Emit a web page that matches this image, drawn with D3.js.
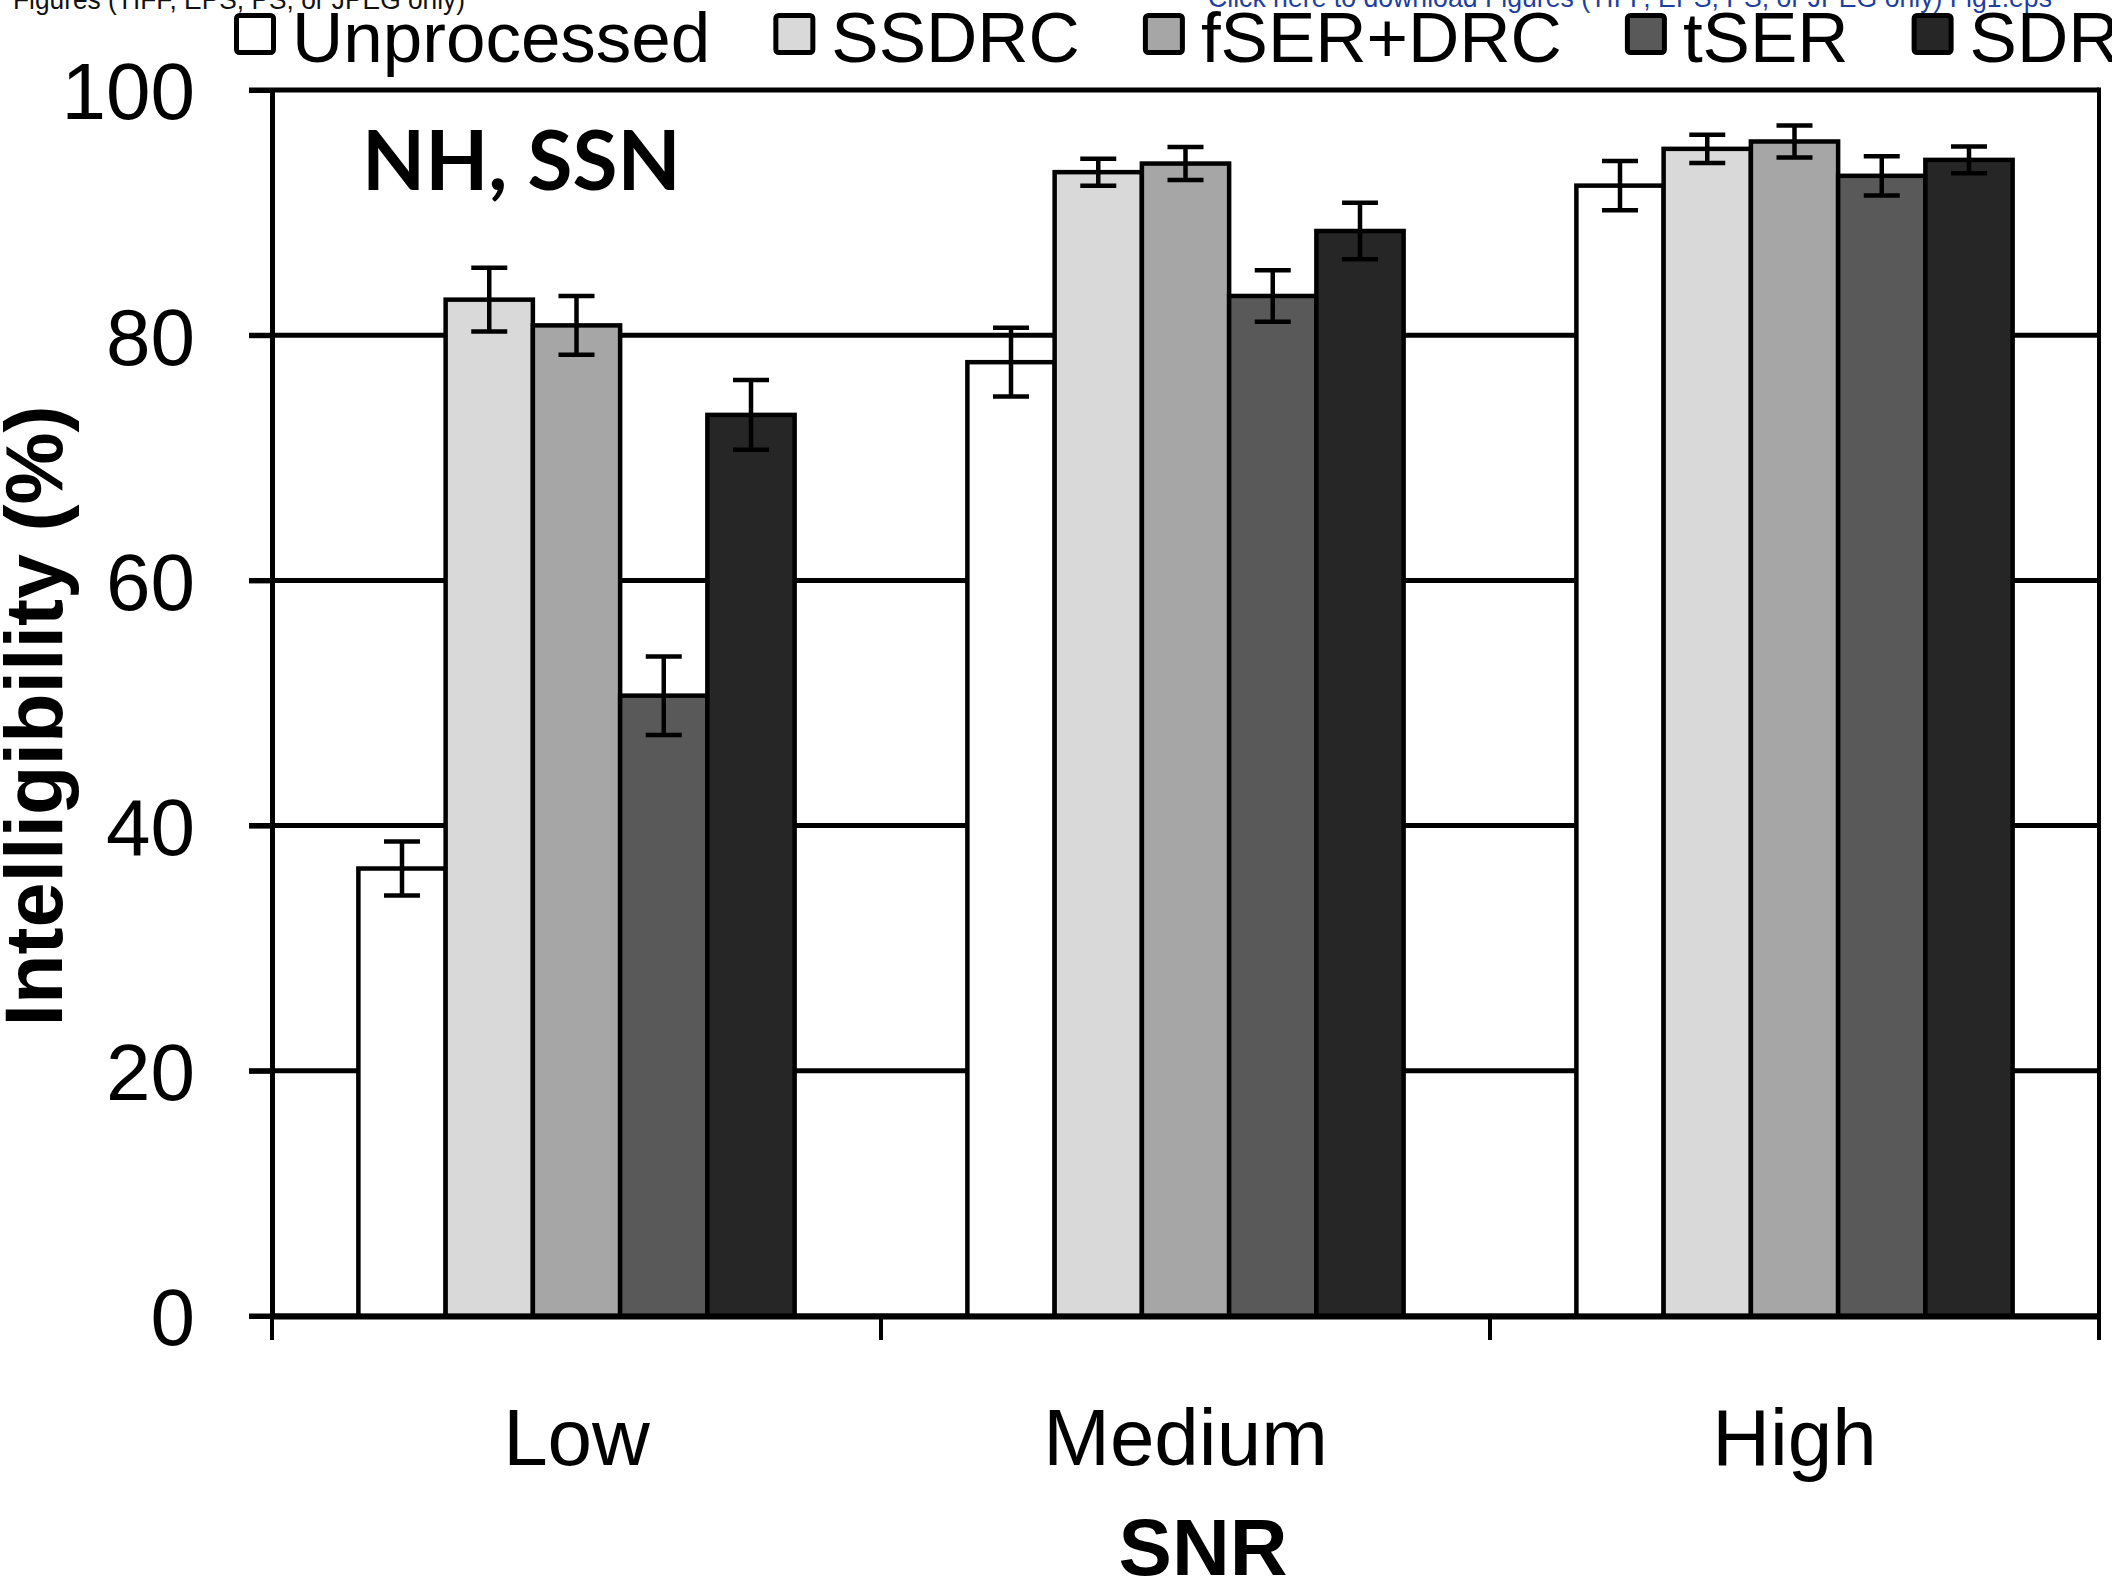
<!DOCTYPE html>
<html>
<head>
<meta charset="utf-8">
<script src="https://cdn.jsdelivr.net/npm/d3@7"></script>
<style>
  body { margin: 0; background: #fff; }
  svg { display: block; }
</style>
</head>
<body>
<svg id="chart" width="2112" height="1582"></svg>
<script>
// SNR levels on the x axis, processing methods as series
var snrLevels = ["Low", "Medium", "High"];
var methods = ["Unprocessed", "SSDRC", "fSER+DRC", "tSER", "SDR"];
var methodColors = ["#ffffff", "#d9d9d9", "#a6a6a6", "#595959", "#262626"];

// mean intelligibility (%) per method, one array per SNR level
var lowMeans = [36.5, 82.9, 80.8, 50.6, 73.5];
var mediumMeans = [77.8, 93.3, 94.0, 83.2, 88.5];
var highMeans = [92.2, 95.2, 95.8, 93.0, 94.3];

// error bar half-lengths
var lowErr = [2.2, 2.6, 2.4, 3.2, 2.85];
var mediumErr = [2.8, 1.1, 1.35, 2.1, 2.3];
var highErr = [2.0, 1.15, 1.3, 1.6, 1.1];

var yTicks = [0, 20, 40, 60, 80, 100];

var means = [lowMeans, mediumMeans, highMeans];
var errs = [lowErr, mediumErr, highErr];

var rows = [];
snrLevels.forEach(function (snr, i) {
    methods.forEach(function (m, j) {
        rows.push({ snr: snr, method: m, value: means[i][j], err: errs[i][j], color: methodColors[j] });
    });
});

var svg = d3.select("#chart");
var font = "'Liberation Sans', Arial, Helvetica, sans-serif";

// plot box (window.top is reserved, so keep these names distinct)
var plotL = 272, plotR = 2099, plotT = 90, plotB = 1316;

var x0 = d3.scaleBand().domain(snrLevels).range([plotL, plotR]).padding(0);
var x1 = d3.scaleBand().domain(methods).range([0, x0.bandwidth()]).paddingInner(0).paddingOuter(0.99);
var y = d3.scaleLinear().domain([0, 100]).range([plotB, plotT]);

// header text left over from the source page
svg.append("text")
    .attr("x", 13).attr("y", 9)
    .style("font-family", font).style("font-size", "28px")
    .attr("textLength", 452).attr("lengthAdjust", "spacingAndGlyphs")
    .attr("fill", "#111")
    .text("Figures (TIFF, EPS, PS, or JPEG only)");
svg.append("text")
    .attr("x", 1208).attr("y", 7)
    .style("font-family", font).style("font-size", "28px")
    .attr("textLength", 844).attr("lengthAdjust", "spacingAndGlyphs")
    .attr("fill", "#1f3f9f")
    .text("Click here to download Figures (TIFF, EPS, PS, or JPEG only) Fig1.eps");

// gridlines (also make the top frame and the short tick stubs at left)
svg.append("g").selectAll("line")
    .data(yTicks)
    .enter().append("line")
    .attr("x1", plotL - 23).attr("x2", plotR)
    .attr("y1", function (d) { return y(d); })
    .attr("y2", function (d) { return y(d); })
    .attr("stroke", "#000").attr("stroke-width", 5);

// right frame
svg.append("line")
    .attr("x1", plotR).attr("x2", plotR)
    .attr("y1", y(100) - 2.5).attr("y2", y(0))
    .attr("stroke", "#000").attr("stroke-width", 4);

// bars
var bars = svg.append("g");
bars.selectAll("rect")
    .data(rows)
    .enter().append("rect")
    .attr("x", function (d) { return x0(d.snr) + x1(d.method); })
    .attr("y", function (d) { return y(d.value); })
    .attr("width", x1.bandwidth())
    .attr("height", function (d) { return y(0) - y(d.value); })
    .attr("fill", function (d) { return d.color; })
    .attr("stroke", "#000").attr("stroke-width", 4.5);

// error bars
var eb = svg.append("g").attr("stroke", "#000").attr("stroke-width", 4.5);
var cx = function (d) { return x0(d.snr) + x1(d.method) + x1.bandwidth() / 2; };
eb.selectAll(".stem").data(rows).enter().append("line")
    .attr("class", "stem")
    .attr("x1", cx).attr("x2", cx)
    .attr("y1", function (d) { return y(d.value + d.err); })
    .attr("y2", function (d) { return y(d.value - d.err); });
eb.selectAll(".capTop").data(rows).enter().append("line")
    .attr("class", "capTop")
    .attr("x1", function (d) { return cx(d) - 18; })
    .attr("x2", function (d) { return cx(d) + 18; })
    .attr("y1", function (d) { return y(d.value + d.err); })
    .attr("y2", function (d) { return y(d.value + d.err); });
eb.selectAll(".capBot").data(rows).enter().append("line")
    .attr("class", "capBot")
    .attr("x1", function (d) { return cx(d) - 18; })
    .attr("x2", function (d) { return cx(d) + 18; })
    .attr("y1", function (d) { return y(d.value - d.err); })
    .attr("y2", function (d) { return y(d.value - d.err); });

// y axis
var yAxis = svg.append("g")
    .attr("transform", "translate(" + plotL + ",0)")
    .call(d3.axisLeft(y).tickValues(yTicks).tickSize(23).tickSizeOuter(0).tickPadding(54));
yAxis.select(".domain").attr("stroke", "#000").attr("stroke-width", 5);
yAxis.selectAll(".tick line").attr("stroke", "#000").attr("stroke-width", 5);
yAxis.selectAll(".tick text")
    .attr("fill", "#000")
    .attr("dy", "0.36em")
    .style("font-family", font).style("font-size", "80px");

// x axis: labels centred in each band, ticks on band edges
var xAxis = svg.append("g")
    .attr("transform", "translate(0," + plotB + ")")
    .call(d3.axisBottom(x0).tickSize(0).tickSizeOuter(0).tickPadding(92));
xAxis.select(".domain").attr("stroke", "#000").attr("stroke-width", 6);
xAxis.selectAll(".tick text")
    .attr("fill", "#000")
    .style("font-family", font).style("font-size", "80px");

var edges = snrLevels.map(function (s) { return x0(s); }).concat([x0.range()[1]]);
svg.append("g").selectAll("line")
    .data(edges)
    .enter().append("line")
    .attr("x1", function (d) { return d; }).attr("x2", function (d) { return d; })
    .attr("y1", plotB).attr("y2", plotB + 24)
    .attr("stroke", "#000").attr("stroke-width", 4);

// axis titles
svg.append("text")
    .attr("x", 1203).attr("y", 1575)
    .attr("text-anchor", "middle")
    .style("font-family", font).style("font-size", "80px").style("font-weight", "bold")
    .text("SNR");

svg.append("text")
    .attr("transform", "translate(62,716) rotate(-90)")
    .attr("text-anchor", "middle")
    .style("font-family", font).style("font-size", "81px").style("font-weight", "bold")
    .text("Intelligibility (%)");

// panel label
svg.append("text")
    .attr("x", 362).attr("y", 190)
    .style("font-family", "Lato, 'Open Sans', sans-serif").style("font-size", "82px").style("font-weight", "bold")
    .text("NH, SSN");

// legend across the top
var legend = svg.append("g");
var lx = 234;
methods.forEach(function (m, i) {
    var item = legend.append("g").attr("transform", "translate(" + lx + ",0)");
    item.append("rect")
        .attr("x", 2.5).attr("y", 15.5)
        .attr("width", 37).attr("height", 37)
        .attr("rx", 3)
        .attr("fill", methodColors[i])
        .attr("stroke", "#000").attr("stroke-width", 5);
    var t = item.append("text")
        .attr("x", 58).attr("y", 62)
        .style("font-family", font).style("font-size", "71px")
        .text(m);
    lx += 58 + t.node().getComputedTextLength() + 63;
});
</script>
</body>
</html>
